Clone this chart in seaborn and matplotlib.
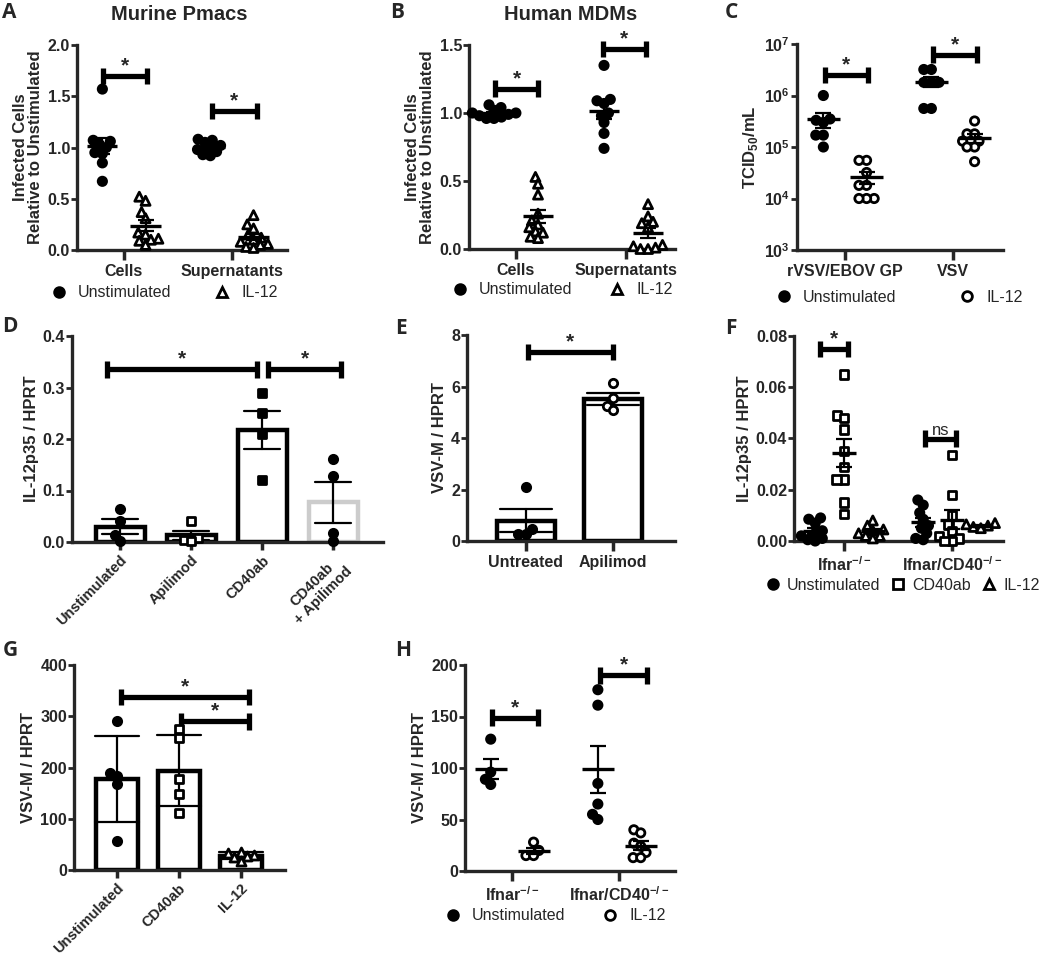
import numpy as np
import pandas as pd
import matplotlib
matplotlib.use('Agg')
import matplotlib.pyplot as plt
from matplotlib.lines import Line2D
from matplotlib.collections import PathCollection
from matplotlib.ticker import FormatStrFormatter, NullLocator
import seaborn as sns

sns.set_style('ticks')
plt.rcParams['font.family'] = ['Liberation Sans', 'DejaVu Sans']
plt.rcParams['font.weight'] = 'bold'
plt.rcParams['axes.labelweight'] = 'bold'
plt.rcParams['mathtext.fontset'] = 'custom'
plt.rcParams['mathtext.rm'] = 'Liberation Sans'
plt.rcParams['mathtext.bf'] = 'Liberation Sans:bold'

# ---- data ----
# A: murine peritoneal macrophages
a_cats = ['Cells', 'Supernatants']
a_cells_unstim = [1.57, 1.07, 1.06, 1.03, 1.00, 0.95, 0.94, 0.85, 0.67]
a_cells_il12 = [0.52, 0.48, 0.37, 0.31, 0.17, 0.15, 0.11, 0.10, 0.09, 0.05]
a_sup_unstim = [1.08, 1.07, 1.05, 1.02, 1.00, 0.98, 0.96, 0.93, 0.92]
a_sup_il12 = [0.34, 0.25, 0.21, 0.15, 0.12, 0.10, 0.08, 0.06, 0.05, 0.03, 0.02]

# B: human MDMs
b_cats = ['Cells', 'Supernatants']
b_cells_unstim = [1.06, 1.04, 1.02, 1.00, 1.00, 0.99, 0.98, 0.97, 0.96, 0.96]
b_cells_il12 = [0.53, 0.48, 0.40, 0.26, 0.21, 0.18, 0.16, 0.13, 0.12, 0.09, 0.08]
b_sup_unstim = [1.35, 1.10, 1.09, 1.07, 1.00, 0.98, 0.93, 0.85, 0.74]
b_sup_il12 = [0.33, 0.24, 0.20, 0.19, 0.16, 0.03, 0.02, 0.01, 0.00, 0.00]

# C: titres
c_cats = ['rVSV/EBOV GP', 'VSV']
c_ebov_unstim = [1.0e6, 3.5e5, 3.3e5, 3.0e5, 1.7e5, 1.7e5, 1.0e5]
c_ebov_il12 = [5.5e4, 5.5e4, 3.2e4, 1.8e4, 1.8e4, 1.0e4, 1.0e4, 1.0e4]
c_vsv_unstim = [3.2e6, 3.2e6, 1.8e6, 1.8e6, 1.8e6, 5.6e5, 5.6e5]
c_vsv_il12 = [3.2e5, 1.8e5, 1.8e5, 1.3e5, 1.3e5, 1.0e5, 1.0e5, 5.2e4]

# D
d_cats = ['Unstimulated', 'Apilimod', 'CD40ab', 'CD40ab\n+ Apilimod']
d_unstim = [0.065, 0.040, 0.013, 0.002]
d_apilimod = [0.040, 0.008, 0.003, 0.002]
d_cd40ab = [0.290, 0.250, 0.210, 0.120]
d_cd40ab_apilimod = [0.162, 0.128, 0.017, 0.002]

# E
e_cats = ['Untreated', 'Apilimod']
e_untreated = [2.10, 0.48, 0.29, 0.29]
e_apilimod = [6.15, 5.55, 5.25, 5.10]

# F
f_cats = ['Ifnar', 'Ifnar/CD40']
f_ifnar_unstim = [0.009, 0.0085, 0.007, 0.004, 0.003, 0.002, 0.001, 0.0005, 0.0]
f_ifnar_cd40ab = [0.065, 0.049, 0.048, 0.0435, 0.035, 0.029, 0.024, 0.024, 0.015, 0.0105]
f_ifnar_il12 = [0.008, 0.006, 0.0045, 0.004, 0.003, 0.002, 0.002, 0.001]
f_dko_unstim = [0.016, 0.014, 0.011, 0.0085, 0.006, 0.005, 0.003, 0.001, 0.0005]
f_dko_cd40ab = [0.0335, 0.018, 0.010, 0.0065, 0.004, 0.002, 0.001, 0.0, 0.0]
f_dko_il12 = [0.007, 0.0065, 0.006, 0.0055, 0.005]

# G
g_cats = ['Unstimulated', 'CD40ab', 'IL-12']
g_unstim = [291, 190, 183, 168, 57]
g_cd40ab = [275, 257, 178, 148, 112]
g_il12 = [36, 33, 30, 27, 25, 18]

# H
h_cats = ['Ifnar', 'Ifnar/CD40']
h_ifnar_unstim = [128, 96, 89, 84]
h_ifnar_il12 = [28, 20, 15, 15]
h_dko_unstim = [176, 161, 85, 65, 55, 50]
h_dko_il12 = [40, 37, 27, 24, 18, 13, 13]

ko_labels = [r'$\mathbf{Ifnar}^{-/-}$', r'$\mathbf{Ifnar/CD40}^{-/-}$']


def long_df(groups):
    rows = []
    for cat, grp, vals in groups:
        rows += [(cat, grp, v) for v in vals]
    return pd.DataFrame(rows, columns=['cat', 'grp', 'val'])


W, H = 1050, 961
fig = plt.figure(figsize=(W / 100, H / 100), dpi=100)

# swarms are laid out with small dots (so they pack tight like the original)
# and the dots are enlarged after the first draw
swarms = []
LAYOUT_SIZE = 3.2
DOT = {'o': 6.0, 's': 6.0, '^': 6.5}


def swarm(ax, mk, **kw):
    n0 = len(ax.collections)
    sns.swarmplot(marker=mk, size=LAYOUT_SIZE, edgecolor='black', linewidth=2.0, ax=ax, **kw)
    for coll in ax.collections[n0:]:
        swarms.append((coll, DOT[mk]))


def axes_px(left, top, right, bottom):
    return fig.add_axes([left / W, 1 - bottom / H, (right - left) / W, (bottom - top) / H])


def dot_panel(ax, df, cats, hues, markers, faces, half, log=False):
    for hue, mk in zip(hues, markers):
        swarm(ax, mk, data=df[df.grp == hue], x='cat', y='val', hue='grp',
              order=cats, hue_order=hues, palette=faces, dodge=True,
              legend=False, log_scale=log)
    n = len(hues)
    step = 0.8 / n
    for i, c in enumerate(cats):
        for j, h in enumerate(hues):
            v = df.loc[(df.cat == c) & (df.grp == h), 'val'].to_numpy()
            m = v.mean()
            se = v.std(ddof=1) / np.sqrt(len(v))
            x = i + (j - (n - 1) / 2) * step
            ax.hlines(m, x - half, x + half, color='black', lw=2.4, zorder=6)
            ax.errorbar(x, m, yerr=se, fmt='none', ecolor='black', elinewidth=1.6,
                        capsize=6, capthick=1.6, zorder=6)


def bar_panel(ax, df, cats, err, capsize, width, styles):
    sns.barplot(data=df, x='cat', y='val', order=cats, errorbar=err, capsize=capsize,
                width=width, color='white', edgecolor='black', linewidth=3.2,
                err_kws={'color': 'black', 'linewidth': 1.6}, ax=ax)
    for cat, (mk, fc) in zip(cats, styles):
        swarm(ax, mk, data=df[df.cat == cat], x='cat', y='val', order=cats, color=fc)


def style(ax, xlim, ylim, yticks, fmt=None):
    sns.despine(ax=ax)
    ax.set_xlim(*xlim)
    ax.set_ylim(*ylim)
    ax.set_yticks(yticks)
    if fmt:
        ax.yaxis.set_major_formatter(FormatStrFormatter(fmt))
    for s in ('left', 'bottom'):
        ax.spines[s].set_linewidth(2.4)
    ax.tick_params(axis='y', length=4, width=2, labelsize=11.5, pad=1)
    ax.tick_params(axis='x', length=7, width=2.5, labelsize=11.5, pad=3)
    ax.set_xlabel('')
    for coll in ax.collections:
        if isinstance(coll, PathCollection) and len(coll.get_offsets()):
            coll.set_clip_on(False)


def rotated_labels(ax, labels):
    ax.set_xticks(range(len(labels)))
    ax.set_xticklabels(labels, rotation=45, ha='right', rotation_mode='anchor',
                       multialignment='center', fontsize=10.5)
    ax.tick_params(axis='x', length=6, pad=2)


def bracket(ax, x1, x2, y, label='*', weight='bold', size=15):
    tr = ax.get_xaxis_transform()
    yf = ax.transAxes.inverted().transform(ax.transData.transform((0, y)))[1]
    h = 0.04
    kw = dict(color='black', lw=3.8, solid_capstyle='butt', transform=tr, clip_on=False)
    ax.plot([x1, x2], [yf, yf], **kw)
    for x in (x1, x2):
        ax.plot([x, x], [yf - h, yf + h], **kw)
    ax.text((x1 + x2) / 2, yf + 0.003, label, transform=tr, ha='center', va='bottom',
            fontsize=size, fontweight=weight)


def legend(items, cx, cy, spacing, pad=0.8):
    handles = [Line2D([], [], ls='none', marker=m, ms=7, mfc=fc, mec='black', mew=2)
               for m, fc, _ in items]
    fig.legend(handles, [t for _, _, t in items], loc='center',
               bbox_to_anchor=(cx / W, 1 - cy / H), ncol=len(items), frameon=False,
               prop={'size': 11.5, 'weight': 'normal'}, handlelength=0.8,
               handletextpad=pad, columnspacing=spacing, borderpad=0.2)


two = ['Unstimulated', 'IL-12']
ylab = dict(fontsize=12, labelpad=3)

# ---- A ----
ax = axes_px(77, 45, 287, 250)
df = long_df([('Cells', 'Unstimulated', a_cells_unstim), ('Cells', 'IL-12', a_cells_il12),
              ('Supernatants', 'Unstimulated', a_sup_unstim), ('Supernatants', 'IL-12', a_sup_il12)])
dot_panel(ax, df, a_cats, two, ['o', '^'], {'Unstimulated': 'black', 'IL-12': 'white'}, 0.14)
style(ax, (-0.435, 1.51), (0, 2), [0, 0.5, 1.0, 1.5, 2.0], '%.1f')
ax.set_ylabel('Infected Cells\nRelative to Unstimulated', linespacing=1.05, **ylab)
bracket(ax, -0.19, 0.21, 1.70)
bracket(ax, 0.815, 1.23, 1.356)
legend([('o', 'black', 'Unstimulated'), ('^', 'white', 'IL-12')], 165, 293, 2.8)

# ---- B ----
ax = axes_px(469, 45, 675, 249)
df = long_df([('Cells', 'Unstimulated', b_cells_unstim), ('Cells', 'IL-12', b_cells_il12),
              ('Supernatants', 'Unstimulated', b_sup_unstim), ('Supernatants', 'IL-12', b_sup_il12)])
dot_panel(ax, df, b_cats, two, ['o', '^'], {'Unstimulated': 'black', 'IL-12': 'white'}, 0.14)
style(ax, (-0.427, 1.445), (0, 1.5), [0, 0.5, 1.0, 1.5], '%.1f')
ax.set_ylabel('Infected Cells\nRelative to Unstimulated', linespacing=1.05, **ylab)
bracket(ax, -0.19, 0.2, 1.18)
bracket(ax, 0.79, 1.18, 1.47)
legend([('o', 'black', 'Unstimulated'), ('^', 'white', 'IL-12')], 563, 290, 2.4)

# ---- C ----
ax = axes_px(797, 44, 1003, 250)
df = long_df([('rVSV/EBOV GP', 'Unstimulated', c_ebov_unstim), ('rVSV/EBOV GP', 'IL-12', c_ebov_il12),
              ('VSV', 'Unstimulated', c_vsv_unstim), ('VSV', 'IL-12', c_vsv_il12)])
dot_panel(ax, df, c_cats, two, ['o', 'o'], {'Unstimulated': 'black', 'IL-12': 'white'}, 0.15, log=True)
style(ax, (-0.444, 1.463), (1e3, 1e7), [1e3, 1e4, 1e5, 1e6, 1e7])
ax.set_yticklabels([r'$\mathbf{10}^{%d}$' % k for k in range(3, 8)])
ax.yaxis.set_minor_locator(NullLocator())
ax.set_ylabel(r'$\mathbf{TCID}_{\mathbf{50}}\mathbf{/mL}$', **ylab)
bracket(ax, -0.185, 0.21, 2.5e6)
bracket(ax, 0.815, 1.22, 6.2e6)
legend([('o', 'black', 'Unstimulated'), ('o', 'white', 'IL-12')], 900, 297, 4.0)

# ---- D ----
ax = axes_px(72, 336, 383, 542)
df = long_df([(d_cats[0], 'g', d_unstim), (d_cats[1], 'g', d_apilimod),
              (d_cats[2], 'g', d_cd40ab), (d_cats[3], 'g', d_cd40ab_apilimod)])
bar_panel(ax, df, d_cats, 'se', 0.5, 0.69,
          [('o', 'black'), ('s', 'white'), ('s', 'black'), ('o', 'black')])
ax.patches[3].set_edgecolor('#cccccc')
style(ax, (-0.676, 3.70), (0, 0.4), [0, 0.1, 0.2, 0.3, 0.4], '%.1f')
rotated_labels(ax, d_cats)
ax.set_ylabel('IL-12p35 / HPRT', **ylab)
bracket(ax, -0.18, 1.93, 0.335)
bracket(ax, 2.085, 3.11, 0.335)

# ---- E ----
ax = axes_px(467, 335, 675, 541)
df = long_df([('Untreated', 'g', e_untreated), ('Apilimod', 'g', e_apilimod)])
bar_panel(ax, df, e_cats, 'se', 0.6, 0.67, [('o', 'black'), ('o', 'white')])
style(ax, (-0.678, 1.713), (0, 8), [0, 2, 4, 6, 8])
ax.set_ylabel('VSV-M / HPRT', **ylab)
bracket(ax, 0.02, 1.0, 7.34)

# ---- F ----
ax = axes_px(794, 336, 1003, 541)
three = ['Unstimulated', 'CD40ab', 'IL-12']
df = long_df([('Ifnar', 'Unstimulated', f_ifnar_unstim), ('Ifnar', 'CD40ab', f_ifnar_cd40ab),
              ('Ifnar', 'IL-12', f_ifnar_il12), ('Ifnar/CD40', 'Unstimulated', f_dko_unstim),
              ('Ifnar/CD40', 'CD40ab', f_dko_cd40ab), ('Ifnar/CD40', 'IL-12', f_dko_il12)])
dot_panel(ax, df, f_cats, three, ['o', 's', '^'],
          {'Unstimulated': 'black', 'CD40ab': 'white', 'IL-12': 'white'}, 0.11)
style(ax, (-0.463, 1.472), (0, 0.08), [0, 0.02, 0.04, 0.06, 0.08], '%.2f')
ax.set_xticks(range(2))
ax.set_xticklabels(ko_labels)
ax.set_ylabel('IL-12p35 / HPRT', **ylab)
bracket(ax, -0.22, 0.04, 0.075)
bracket(ax, 0.75, 1.04, 0.040, label='ns', weight='normal', size=12)
legend([('o', 'black', 'Unstimulated'), ('s', 'white', 'CD40ab'), ('^', 'white', 'IL-12')],
       903, 585, 0.7, pad=0.5)

# ---- G ----
ax = axes_px(74, 665, 285, 870)
df = long_df([('Unstimulated', 'g', g_unstim), ('CD40ab', 'g', g_cd40ab), ('IL-12', 'g', g_il12)])
bar_panel(ax, df, g_cats, 'sd', 0.7, 0.67, [('o', 'black'), ('s', 'white'), ('^', 'white')])
style(ax, (-0.69, 2.71), (0, 400), [0, 100, 200, 300, 400])
rotated_labels(ax, g_cats)
ax.set_ylabel('VSV-M / HPRT', **ylab)
bracket(ax, 0.06, 2.13, 338)
bracket(ax, 1.03, 2.13, 290)

# ---- H ----
ax = axes_px(465, 665, 675, 871)
df = long_df([('Ifnar', 'Unstimulated', h_ifnar_unstim), ('Ifnar', 'IL-12', h_ifnar_il12),
              ('Ifnar/CD40', 'Unstimulated', h_dko_unstim), ('Ifnar/CD40', 'IL-12', h_dko_il12)])
dot_panel(ax, df, h_cats, two, ['o', 'o'], {'Unstimulated': 'black', 'IL-12': 'white'}, 0.15)
style(ax, (-0.44, 1.52), (0, 200), [0, 50, 100, 150, 200])
ax.set_xticks(range(2))
ax.set_xticklabels(ko_labels)
ax.set_ylabel('VSV-M / HPRT', **ylab)
bracket(ax, -0.19, 0.24, 149)
bracket(ax, 0.82, 1.26, 190)
legend([('o', 'black', 'Unstimulated'), ('o', 'white', 'IL-12')], 556, 916, 2.4)

# ---- titles and panel letters ----
fig.text(179 / W, 1 - 14 / H, 'Murine Pmacs', ha='center', va='center', fontsize=14.5, fontweight='bold')
fig.text(571 / W, 1 - 14 / H, 'Human MDMs', ha='center', va='center', fontsize=14.5, fontweight='bold')
for letter, x, y in [('A', 2, 12), ('B', 390, 12), ('C', 725, 12), ('D', 2, 327),
                     ('E', 395, 328), ('F', 725, 328), ('G', 3, 650), ('H', 395, 650)]:
    fig.text(x / W, 1 - y / H, letter, ha='left', va='center', fontsize=15,
             fontweight='bold', family=['Open Sans', 'DejaVu Sans'])

# lay out the swarms once, then freeze positions and blow the dots up
fig.canvas.draw()
for coll, ms in swarms:
    if 'draw' in coll.__dict__:
        del coll.draw
    coll.set_sizes([ms ** 2])

fig.savefig('out.png', dpi=100)
